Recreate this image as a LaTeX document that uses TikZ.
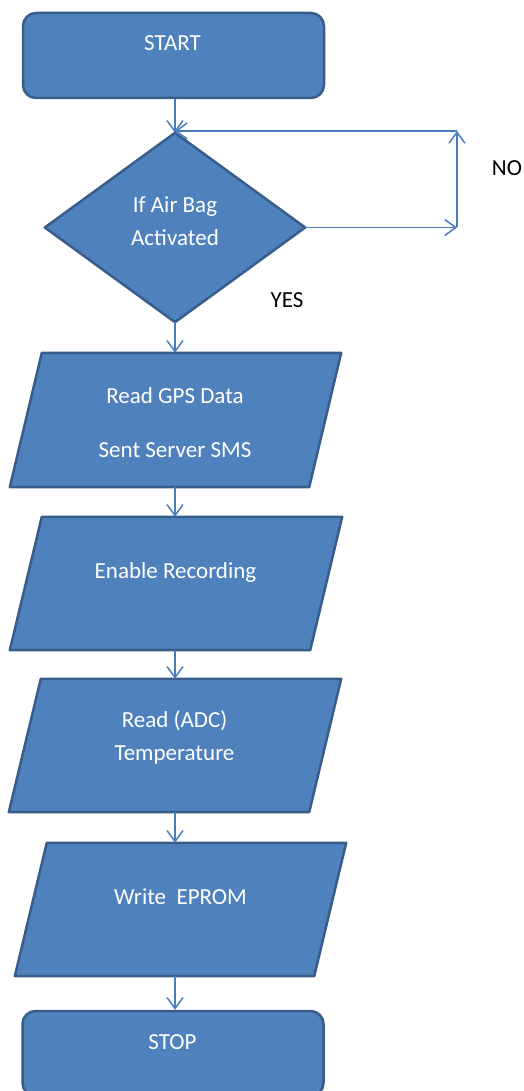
\documentclass[tikz,border=0pt]{standalone}
\usepackage{fontspec}
\setmainfont{Carlito}
\usetikzlibrary{arrows.meta,calc}
\definecolor{boxfill}{HTML}{4F81BD}
\definecolor{boxline}{HTML}{385D8A}
\definecolor{connblue}{HTML}{4A7EBB}
\begin{document}
\begin{tikzpicture}[x=1pt,y=-1pt,
  frame/.style={rectangle, inner sep=0pt, minimum width=#1},
  shapefill/.style={draw=boxline, fill=boxfill, line width=2.5pt, line join=round},
  term/.style={shapefill, rounded corners=13pt, rectangle, inner sep=0pt, minimum width=301pt, minimum height=85pt},
  intext/.style={text=white, align=center, inner sep=0pt, font=\fontsize{23}{33}\selectfont},
  outtext/.style={text=black, inner sep=0pt, font=\fontsize{23}{33}\selectfont},
  conn/.style={draw=connblue, line width=1.5pt, -{Straight Barb[length=11pt,width=16pt,line width=1.5pt]}}
]
\useasboundingbox (0,0) rectangle (524,1091);

% shapes
\node[term] (s) at (173.5,55.5) {};
\node[term] (e) at (173,1053.5) {};
\node[frame=260pt, minimum height=189pt] (d) at (175,227.5) {};
\node[frame=331pt, minimum height=134pt] (p1) at (175.5,420) {};
\node[frame=332pt, minimum height=133pt] (p2) at (176,583.5) {};
\node[frame=332pt, minimum height=133pt] (p3) at (175,745.5) {};
\node[frame=331pt, minimum height=133pt] (p4) at (180.5,909.5) {};

\draw[shapefill] (d.north) -- (d.east) -- (d.south) -- (d.west) -- cycle;
\foreach \p in {p1,p2,p3,p4}{
  \draw[shapefill] (\p.south west) -- ($(\p.north west)+(32,0)$) -- (\p.north east) -- ($(\p.south east)+(-32,0)$) -- cycle;
}

% texts
\node[intext] (ts) at (172.5,43) {START};
\node[intext] (td) at (175,221) {If Air Bag\\Activated};
\node[intext] (tp1) at (175,423) {Read GPS Data\\[21pt]Sent Server SMS};
\node[intext] (tp2) at (175.5,572) {Enable Recording};
\node[intext] (tp3) at (174.5,737) {Read (ADC)\\Temperature};
\node[intext] (tp4) at (180.5,897) {Write\ \ EPROM};
\node[intext] (te) at (172.5,1042) {STOP};
\node[outtext] (tno) at (507,168) {NO};
\node[outtext] (tyes) at (287,300) {YES};

% connectors
\coordinate (nA) at (457,227.5);
\coordinate (nB) at (457,131);
\draw[conn] (d.north |- s.south) -- (d.north);
\draw[conn] (d.east) -- (nA);
\draw[conn] (nA) -- (nB);
\draw[conn] (nB) -- (nB -| d.north);
\draw[conn] (d.south) -- (d.south |- p1.north);
\draw[conn] (d.south |- p1.south) -- (d.south |- p2.north);
\draw[conn] (d.south |- p2.south) -- (d.south |- p3.north);
\draw[conn] (d.south |- p3.south) -- (d.south |- p4.north);
\draw[conn] (d.south |- p4.south) -- (d.south |- e.north);
\end{tikzpicture}
\end{document}
